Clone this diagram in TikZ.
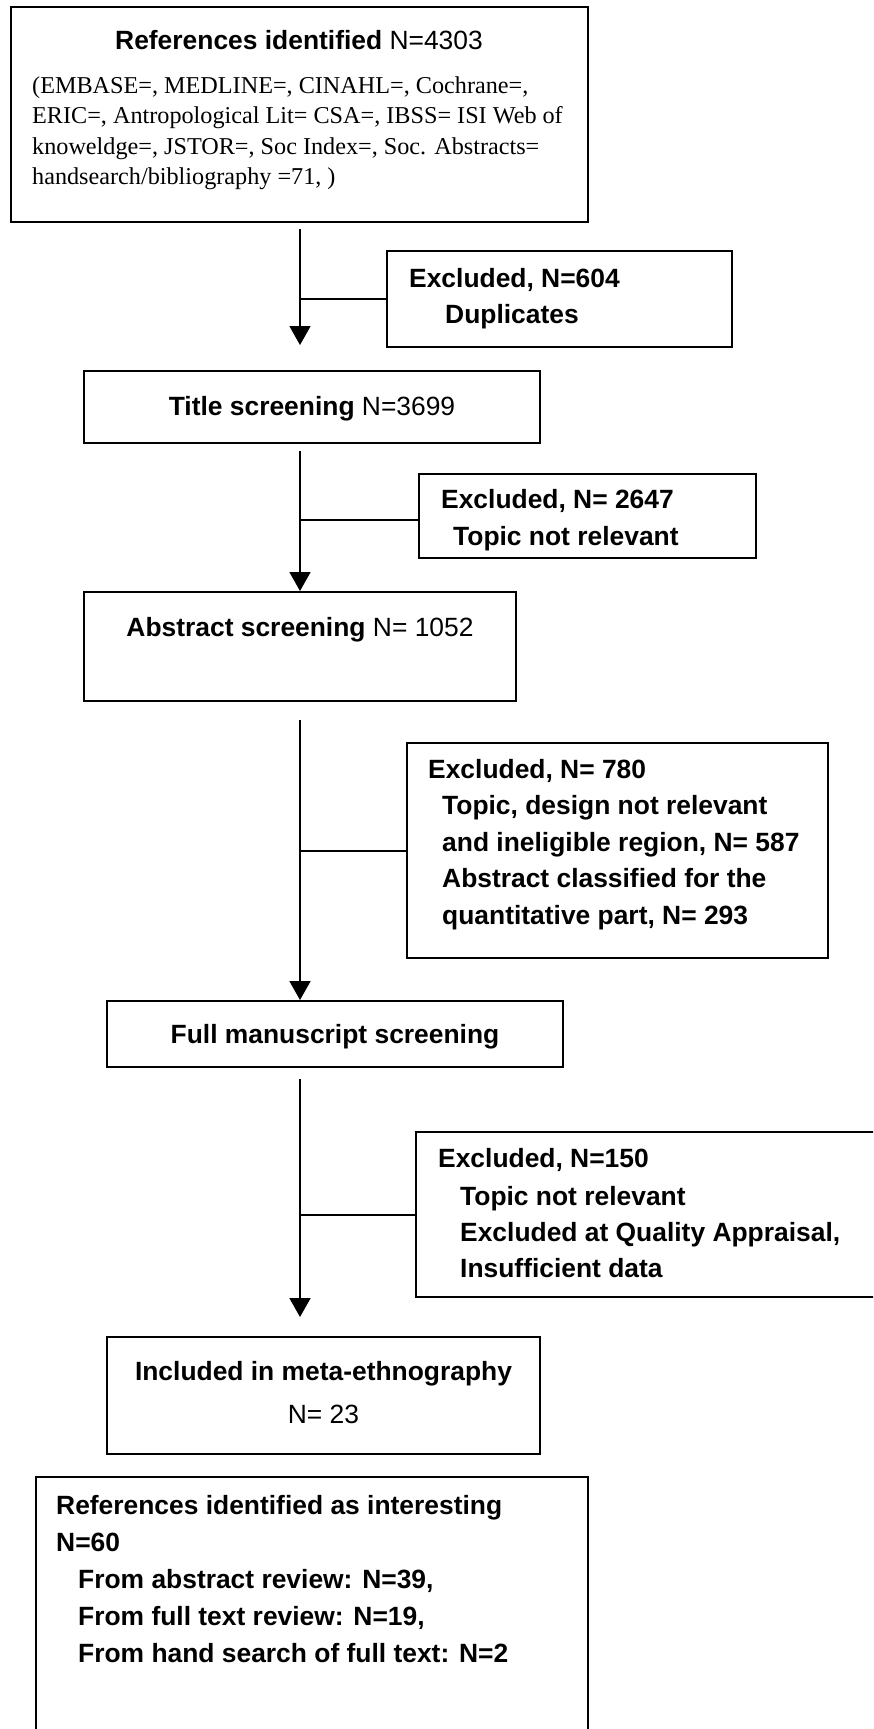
\documentclass[tikz,border=0pt]{standalone}
\usepackage{fontspec}
\setmainfont{Liberation Serif}
\newfontfamily\sans{Liberation Sans}
\usetikzlibrary{arrows.meta}
\tikzset{
  box/.style={draw=black, line width=2pt, rectangle, inner sep=0pt, fill=none},
  conn/.style={draw=black, line width=1.8pt},
  arr/.style={conn, -{Triangle[width=21pt,length=19pt]}},
  tx/.style={inner sep=0pt, anchor=base west, font=\fontsize{26.4}{31}\sans\bfseries},
  txc/.style={inner sep=0pt, anchor=base, font=\fontsize{26.4}{31}\sans},
  ser/.style={inner sep=0pt, anchor=base west, font=\fontsize{24.2}{29}\rmfamily},
}
\begin{document}
\begin{tikzpicture}[x=1pt,y=-1pt]
\useasboundingbox (0,0) rectangle (873,1729);
\fill[white] (0,0) rectangle (873,1729);
\clip (0,0) rectangle (873,1729);
% boxes
\node[box, minimum width=577pt, minimum height=215pt] (box1) at (299.5,114.5) {};
\node[box, minimum width=345pt, minimum height=96pt] (ex604) at (559.5,299) {};
\node[box, minimum width=456pt, minimum height=72pt] (title) at (312,407) {};
\node[box, minimum width=337pt, minimum height=84pt] (ex2647) at (587.5,516) {};
\node[box, minimum width=432pt, minimum height=109pt] (abstract) at (300,646.5) {};
\node[box, minimum width=421pt, minimum height=215pt] (ex780) at (617.5,850.5) {};
\node[box, minimum width=456pt, minimum height=66pt] (full) at (335,1034) {};
\node[box, minimum width=500pt, minimum height=165pt] (ex150) at (666,1214.5) {};
\node[box, minimum width=433pt, minimum height=117pt] (included) at (323.5,1395.5) {};
\node[box, minimum width=552pt, minimum height=300pt] (refs) at (312,1627) {};
% spine coordinates
\coordinate (spine) at (300,0);
\coordinate (b1) at (300,299);
\coordinate (b2) at (300,520);
\coordinate (b3) at (300,851);
\coordinate (b4) at (300,1215);
% arrows
\draw[arr, shorten <=6pt, shorten >=25pt] (box1.south -| spine) -- (title.north -| spine);
\draw[arr, shorten <=7pt] (title.south -| spine) -- (abstract.north -| spine);
\draw[arr, shorten <=18pt] (abstract.south -| spine) -- (full.north -| spine);
\draw[arr, shorten <=11pt, shorten >=19pt] (full.south -| spine) -- (included.north -| spine);
% branches
\draw[conn] (b1) -- (b1 -| ex604.west);
\draw[conn] (b2) -- (b2 -| ex2647.west);
\draw[conn] (b3) -- (b3 -| ex780.west);
\draw[conn] (b4) -- (b4 -| ex150.west);
% texts
\node[txc] (t1) at (299,49) {\bfseries References identified\mdseries\ N=4303};
\node[ser] (t1a) at (32,93) {(EMBASE=, MEDLINE=, CINAHL=, Cochrane=,};
\node[ser] (t1b) at (32,123.5) {ERIC=, Antropological Lit= CSA=, IBSS= ISI Web of};
\node[ser] (t1c) at (32,154) {knoweldge=, JSTOR=, Soc Index=, Soc. Abstracts=};
\node[ser] (t1d) at (32,184.5) {handsearch/bibliography =71, )};
\node[tx] (t2a) at (409,287) {Excluded, N=604};
\node[tx] (t2b) at (445,323) {Duplicates};
\node[txc] (t3) at (312,415) {\bfseries Title screening\mdseries\ N=3699};
\node[tx] (t4a) at (441,508) {Excluded, N= 2647};
\node[tx] (t4b) at (453,545) {Topic not relevant};
\node[txc] (t5) at (300,636) {\bfseries Abstract screening\mdseries\ N= 1052};
\node[tx] (t6a) at (428,778) {Excluded, N= 780};
\node[tx] (t6b) at (442,814.5) {Topic, design not relevant};
\node[tx] (t6c) at (442,851) {and ineligible region, N= 587};
\node[tx] (t6d) at (442,887.5) {Abstract classified for the};
\node[tx] (t6e) at (442,924) {quantitative part, N= 293};
\node[txc] (t7) at (335,1043) {\bfseries Full manuscript screening};
\node[tx] (t8a) at (438,1167) {Excluded, N=150};
\node[tx] (t8b) at (460,1205) {Topic not relevant};
\node[tx] (t8c) at (460,1241) {Excluded at Quality Appraisal,};
\node[tx] (t8d) at (460,1277) {Insufficient data};
\node[txc] (t9a) at (323.5,1380) {\bfseries Included in meta-ethnography};
\node[txc] (t9b) at (323.5,1423) {N= 23};
\node[tx] (t10a) at (56,1514) {References identified as interesting};
\node[tx] (t10b) at (56,1551) {N=60};
\node[tx] (t10c) at (78,1588) {From abstract review: N=39,};
\node[tx] (t10d) at (78,1625) {From full text review: N=19,};
\node[tx] (t10e) at (78,1662) {From hand search of full text: N=2};
\end{tikzpicture}
\end{document}
